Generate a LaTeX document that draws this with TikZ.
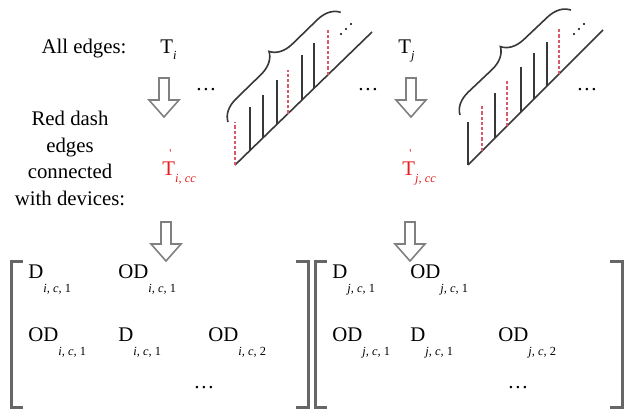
\documentclass[tikz,border=0pt]{standalone}
\usepackage{fontspec}
\setmainfont{Liberation Serif}
\newfontfamily\tnr{Liberation Serif}
\usetikzlibrary{decorations.pathreplacing}
\definecolor{txtred}{rgb}{0.9,0.12,0.12}
\definecolor{dashred}{rgb}{0.85,0.35,0.42}
\definecolor{lnk}{rgb}{0.22,0.22,0.22}
\definecolor{brk}{rgb}{0.4,0.4,0.4}
\definecolor{arrg}{rgb}{0.5,0.5,0.5}
\newcommand\sbx[2]{\raisebox{-#1}{\fontsize{6.2}{7}\selectfont\itshape #2}}
\newcommand\prm{\llap{\raisebox{9pt}{\fontsize{6}{6}\selectfont\upshape\textquotesingle}\hspace{1.8pt}}}
\tikzset{
  txt/.style={inner sep=0pt, font=\tnr\fontsize{10.4}{12}\selectfont},
  redtxt/.style={txt, text=txtred},
  edgeline/.style={draw=lnk, line width=1pt},
  baseln/.style={draw=lnk, line width=0.8pt},
  rededge/.style={draw=dashred, line width=1.2pt, dash pattern=on 1.6pt off 1pt},
  bracefig/.style={draw=lnk, line width=0.8pt, decorate, decoration={brace, amplitude=11pt}},
  bracket/.style={draw=brk, line width=1.5pt},
  hollowarrow/.pic={\draw[draw=arrg, fill=white, line width=0.8pt, line join=miter]
     (-5,0) -- (-5,22) -- (-15,22) -- (0,39) -- (15,22) -- (5,22) -- (5,0) -- cycle;},
  dotm/.style={fill=black}
}
\begin{document}
\begin{tikzpicture}[x=0.5pt, y=-0.5pt]
\useasboundingbox (0,0) rectangle (641,418);

% ---- top texts ----
\node[txt, anchor=base] (alledges) at (84,53) {All edges:};
\node[txt, anchor=base west] (Ti) at (160,53) {T\sbx{3pt}{i}};
\node[txt, anchor=base west] (Tj) at (398,53) {T\sbx{3pt}{j}};

\node[txt, anchor=base] (r1) at (70,125) {Red dash};
\node[txt, anchor=base] (r2) at (70,152) {edges};
\node[txt, anchor=base] (r3) at (70,178) {connected};
\node[txt, anchor=base] (r4) at (70,205) {with devices:};

\node[redtxt, anchor=base west] (Tic) at (162,175) {T\prm\sbx{3.5pt}{i, cc}};
\node[redtxt, anchor=base west] (Tjc) at (402,175) {T\prm\sbx{3.5pt}{j, cc}};

% ellipses
\node[txt] (e1) at (206,90) {\ldots};
\node[txt] (e2) at (368,90) {\ldots};
\node[txt] (e3) at (587,90) {\ldots};

% ---- arrows ----
\pic at (164,78) {hollowarrow};
\pic at (411,78) {hollowarrow};
\pic at (166,222) {hollowarrow};
\pic at (410,222) {hollowarrow};

% ---- left tree graphic ----
\coordinate (L0) at (235,165);
\coordinate (L1) at (372,32);
\draw[baseln] (L0) -- (L1);
\draw[rededge] (235,165) -- (235,122);
\draw[edgeline] (250,150.4) -- (250,107);
\draw[edgeline] (263,137.8) -- (263,95);
\draw[edgeline] (277,124.2) -- (277,80);
\draw[rededge] (288,113.5) -- (288,70);
\draw[edgeline] (302,99.9) -- (302,55);
\draw[edgeline] (314,88.3) -- (314,43);
\draw[rededge] (328,74.7) -- (328,30);
\coordinate (LB0) at (228,122);
\coordinate (LB1) at (341,12);
\draw[bracefig] (LB0) -- (LB1);
\fill[dotm] (341,34) circle[radius=1.2] (346,29) circle[radius=1.2] (351,24) circle[radius=1.2];

% ---- right tree graphic ----
\coordinate (R0) at (468,165);
\coordinate (R1) at (603,30);
\draw[baseln] (R0) -- (R1);
\draw[edgeline] (468,165) -- (468,122);
\draw[rededge] (482,151) -- (482,105);
\draw[edgeline] (495,138) -- (495,93);
\draw[rededge] (507,126) -- (507,80);
\draw[edgeline] (521,112) -- (521,67);
\draw[edgeline] (534,99) -- (534,53);
\draw[edgeline] (547,86) -- (547,42);
\draw[rededge] (559,74) -- (559,28);
\coordinate (RB0) at (460,115);
\coordinate (RB1) at (571,10);
\draw[bracefig] (RB0) -- (RB1);
\fill[dotm] (574,34) circle[radius=1.2] (579,29) circle[radius=1.2] (584,24) circle[radius=1.2];

% ---- brackets ----
\draw[bracket] (23,261) -- (11,261) -- (11,407) -- (23,407);
\draw[bracket] (296,261) -- (308,261) -- (308,407) -- (296,407);
\draw[bracket] (327,261) -- (315,261) -- (315,407) -- (327,407);
\draw[bracket] (610,261) -- (622,261) -- (622,407) -- (610,407);

% ---- left matrix ----
\node[txt, anchor=base west] (m11) at (28,278) {D\sbx{7pt}{i, c, \upshape 1}};
\node[txt, anchor=base west] (m12) at (118,278) {OD\sbx{7pt}{i, c, \upshape 1}};
\node[txt, anchor=base west] (m21) at (28,341) {OD\sbx{7pt}{i, c, \upshape 1}};
\node[txt, anchor=base west] (m22) at (118,341) {D\sbx{7pt}{i, c, \upshape 1}};
\node[txt, anchor=base west] (m23) at (208,341) {OD\sbx{7pt}{i, c, \upshape 2}};
\node[txt, anchor=base] (m33) at (204,388) {\ldots};

% ---- right matrix ----
\node[txt, anchor=base west] (n11) at (332,278) {D\sbx{7pt}{j, c, \upshape 1}};
\node[txt, anchor=base west] (n12) at (410,278) {OD\sbx{7pt}{j, c, \upshape 1}};
\node[txt, anchor=base west] (n21) at (332,341) {OD\sbx{7pt}{j, c, \upshape 1}};
\node[txt, anchor=base west] (n22) at (410,341) {D\sbx{7pt}{j, c, \upshape 1}};
\node[txt, anchor=base west] (n23) at (498,341) {OD\sbx{7pt}{j, c, \upshape 2}};
\node[txt, anchor=base] (n33) at (518,388) {\ldots};
\end{tikzpicture}
\end{document}
